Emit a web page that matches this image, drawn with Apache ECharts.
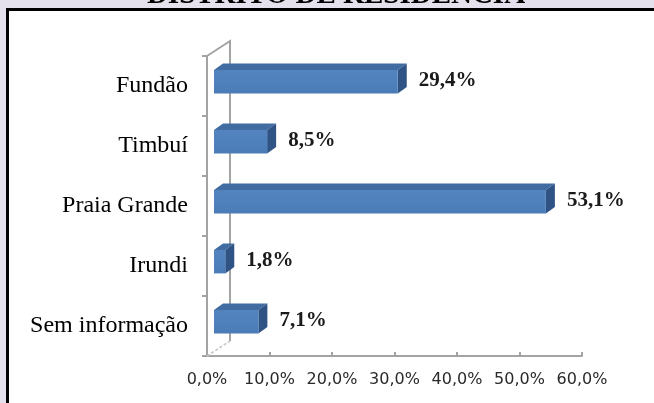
<!DOCTYPE html>
<html>
<head>
<meta charset="utf-8">
<script src="https://cdn.jsdelivr.net/npm/echarts@6/dist/echarts.min.js"></script>
<style>
html, body { margin: 0; padding: 0; background: #e4e0ec; }
#chart { width: 654px; height: 403px; }
</style>
</head>
<body>
<div id="chart"></div>
<script>
const chartTitle = 'DISTRITO DE RESIDÊNCIA';
const categories = ['Fundão', 'Timbuí', 'Praia Grande', 'Irundi', 'Sem informação'];
const percents = [29.4, 8.5, 53.1, 1.8, 7.1];
const xTicks = [0, 10, 20, 30, 40, 50, 60];

// layout of the plot area (front plane) and the fake 3d depth
const gridLeft = 207, gridTop = 56, gridW = 375, gridH = 300;
const wallDx = 23, wallDy = -15;
const axisGray = '#a3a3a3';

function fmtPct(v) {
    return v.toFixed(1).replace('.', ',') + '%';
}

function renderBox(params, api) {
    const cat = api.value(1);
    const p0 = api.coord([0, cat]);
    const p1 = api.coord([api.value(0), cat]);
    const band = api.size([0, 1])[1];
    const h = band * 0.39;
    const x0 = p0[0] + 7, x1 = p1[0] + 7;
    const yc = p0[1] - 4.3;
    const yt = yc - h / 2, yb = yc + h / 2;
    const dx = 9, dy = -6.5;
    return {
        type: 'group',
        children: [
            { type: 'polygon', shape: { points: [[x0, yt], [x1, yt], [x1 + dx, yt + dy], [x0 + dx, yt + dy]] },
              style: { fill: '#416ca1' } },
            { type: 'polygon', shape: { points: [[x1, yt], [x1 + dx, yt + dy], [x1 + dx, yb + dy], [x1, yb]] },
              style: { fill: '#2f5384' } },
            { type: 'rect', shape: { x: x0, y: yt, width: x1 - x0, height: h },
              style: { fill: new echarts.graphic.LinearGradient(0, 0, 0, 1, [
                  { offset: 0, color: '#5384c0' }, { offset: 0.5, color: '#4f81bd' }, { offset: 1, color: '#4a7bb6' }
              ]) } },
            { type: 'text', x: x1 + dx + 12, y: yc - 1,
              style: { text: fmtPct(api.value(0)), fontFamily: 'Liberation Serif', fontSize: 21, fontWeight: 'bold',
                       fill: '#1a1a1a', align: 'left', verticalAlign: 'middle' } }
        ]
    };
}

const chart = echarts.init(document.getElementById('chart'));
const option = {
    backgroundColor: '#e4e0ec',
    animation: false,
    grid: { left: gridLeft, top: gridTop, width: gridW, height: gridH },
    xAxis: {
        type: 'value',
        min: xTicks[0],
        max: xTicks[xTicks.length - 1],
        interval: xTicks[1] - xTicks[0],
        axisLine: { show: true, lineStyle: { color: axisGray, width: 2 } },
        axisTick: { show: true, inside: true, length: 4, lineStyle: { color: axisGray, width: 2 } },
        splitLine: { show: false },
        axisLabel: { formatter: fmtPct, fontFamily: 'DejaVu Sans', fontSize: 16, color: '#2a2a2a', margin: 16 }
    },
    yAxis: {
        type: 'category',
        data: categories,
        inverse: true,
        axisLine: { show: true, lineStyle: { color: axisGray, width: 2 } },
        axisTick: { show: true, length: 5, lineStyle: { color: axisGray, width: 2 } },
        axisLabel: { fontFamily: 'Liberation Serif', fontSize: 24, color: '#000', margin: 19 }
    },
    graphic: [
        { type: 'text', z: -20, x: 336, y: 10,
          style: { text: chartTitle, fontFamily: 'Liberation Serif', fontSize: 29, fontWeight: 'bold',
                   fill: '#000', align: 'center', verticalAlign: 'bottom' } },
        { type: 'rect', z: -10, shape: { x: 7.5, y: 9.5, width: 720, height: 460 },
          style: { fill: '#fff', stroke: '#000', lineWidth: 3 } },
        // back wall + top edge of the 3d frame
        { type: 'polyline', z: 1,
          shape: { points: [[gridLeft, gridTop], [gridLeft + wallDx, gridTop + wallDy], [gridLeft + wallDx, gridTop + gridH + wallDy]] },
          style: { stroke: axisGray, lineWidth: 2, fill: null } },
        // floor edge, dashed
        { type: 'line', z: 1,
          shape: { x1: gridLeft, y1: gridTop + gridH, x2: gridLeft + wallDx, y2: gridTop + gridH + wallDy },
          style: { stroke: '#c4c4c4', lineWidth: 1.5, lineDash: [3, 2] } }
    ],
    series: [{
        type: 'custom',
        renderItem: renderBox,
        encode: { x: 0, y: 1 },
        data: percents.map((v, i) => [v, i])
    }]
};
chart.setOption(option);
</script>
</body>
</html>
